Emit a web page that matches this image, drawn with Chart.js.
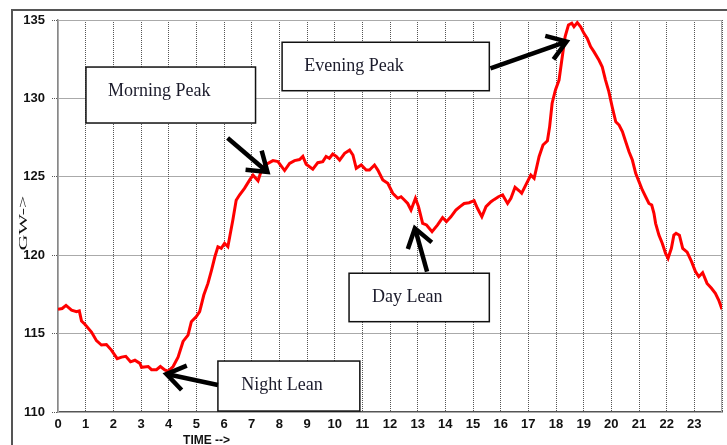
<!DOCTYPE html>
<html lang="en">
  <head>
    <meta charset="UTF-8" />
    <title>Daily load curve</title>
    <script src="https://cdn.jsdelivr.net/npm/chart.js"></script>
    <style>
      html, body { margin: 0; padding: 0; background: #fff; overflow: hidden; }
      .graph-container { position: relative; width: 727px; height: 445px; }
    </style>
  </head>
  <body>
    <div id="graph" class="graph-container"><canvas id="chart"></canvas></div>

    <script>
      // hour of day (x) and load in GW (y)
      const hours = [
        0.00, 0.15, 0.29, 0.49, 0.67, 0.77, 0.85, 0.97, 1.21, 1.39, 1.57, 1.75, 1.93,
        2.14, 2.30, 2.45, 2.62, 2.78, 2.96, 3.02, 3.26, 3.38, 3.56, 3.70, 3.86, 3.98,
        4.16, 4.34, 4.52, 4.70, 4.82, 5.00, 5.12, 5.27, 5.42, 5.55, 5.67, 5.78, 5.90,
        6.02, 6.14, 6.32, 6.44, 6.56, 6.74, 6.93, 7.05, 7.23, 7.35, 7.47, 7.59, 7.77,
        7.95, 8.19, 8.37, 8.55, 8.73, 8.85, 8.97, 9.21, 9.39, 9.57, 9.69, 9.81, 9.93,
        10.06, 10.18, 10.36, 10.54, 10.66, 10.78, 10.96, 11.14, 11.26, 11.44, 11.56,
        11.74, 11.92, 12.10, 12.28, 12.40, 12.52, 12.64, 12.76, 12.92, 13.03, 13.18,
        13.32, 13.52, 13.72, 13.90, 14.04, 14.20, 14.38, 14.53, 14.68, 14.86, 15.04,
        15.16, 15.32, 15.47, 15.65, 15.77, 15.92, 16.07, 16.25, 16.37, 16.52, 16.67,
        16.76, 16.91, 17.09, 17.21, 17.39, 17.53, 17.69, 17.77, 17.86, 17.98, 18.11,
        18.21, 18.33, 18.45, 18.57, 18.65, 18.77, 18.89, 19.01, 19.13, 19.25, 19.37,
        19.55, 19.67, 19.79, 19.91, 20.03, 20.16, 20.28, 20.40, 20.52, 20.64, 20.76,
        20.88, 21.00, 21.12, 21.24, 21.36, 21.46, 21.54, 21.60, 21.72, 21.84, 21.96,
        22.05, 22.17, 22.26, 22.34, 22.46, 22.58, 22.74, 22.90, 23.04, 23.16, 23.30,
        23.46, 23.62, 23.76, 23.88, 24.00
      ];
      const gw = [
        116.55, 116.6, 116.8, 116.5, 116.4, 116.45, 115.8, 115.6, 115.1, 114.55, 114.27, 114.3, 113.95,
        113.4, 113.5, 113.55, 113.2, 113.3, 113.1, 112.85, 112.9, 112.7, 112.7, 112.9, 112.68, 112.6,
        112.9, 113.5, 114.5, 114.9, 115.76, 116.08, 116.4, 117.46, 118.2, 119.05, 119.9, 120.54, 120.44,
        120.76, 120.54, 122.25, 123.5, 123.84, 124.26, 124.8, 125.1, 124.75, 125.4, 125.75, 125.86, 126.03,
        125.97, 125.4, 125.86, 126.03, 126.1, 126.3, 125.8, 125.48, 125.9, 125.97, 126.3, 126.18, 126.45,
        126.3, 126.07, 126.5, 126.7, 126.39, 125.54, 125.75, 125.43, 125.43, 125.75, 125.43,
        124.8, 124.58, 123.95, 123.63, 123.73, 123.52, 123.3, 122.88, 123.63, 123.1, 122.03,
        121.93, 121.5, 121.93, 122.4, 122.14, 122.45, 122.88, 123.1, 123.3, 123.35, 123.48,
        122.99, 122.45, 123.1, 123.41, 123.56, 123.73, 123.84, 123.3, 123.63, 124.33, 124.11,
        123.95, 124.48, 125.11, 124.9, 126.3, 127.03, 127.3, 128.2, 129.69, 130.54, 131.17,
        132.45, 133.94, 134.68, 134.79, 134.57, 134.83, 134.57, 134.15, 133.83, 133.3, 132.98,
        132.45, 132.02, 131.17, 130.43, 129.47, 128.51, 128.3, 127.88, 127.24, 126.6, 126.07,
        125.22, 124.69, 124.16, 123.73, 123.3, 123.2, 122.67, 122.03, 121.28, 120.76, 120.12,
        119.8, 120.44, 121.28, 121.4, 121.28, 120.44, 120.2, 119.59, 118.95, 118.63, 118.89,
        118.2, 117.89, 117.57, 117.14, 116.55
      ];

      const xTicks = [0, 1, 2, 3, 4, 5, 6, 7, 8, 9, 10, 11, 12, 13, 14, 15, 16, 17, 18, 19, 20, 21, 22, 23];
      const yTicks = [110, 115, 120, 125, 130, 135];

      // callout boxes with arrows, in data coordinates (hour, GW)
      const notes = [
        { text: "Morning Peak", box: [1.01, 7.14, 132.0, 128.43], textAt: [1.81, 130.47], arrow: [6.13, 127.47, 7.57, 125.31] },
        { text: "Evening Peak", box: [8.10, 15.59, 133.58, 130.49], textAt: [8.90, 132.07], arrow: [15.63, 131.92, 18.38, 133.62] },
        { text: "Day Lean", box: [10.52, 15.59, 118.85, 115.76], textAt: [11.35, 117.33], arrow: [13.34, 118.95, 12.90, 121.72] },
        { text: "Night Lean", box: [5.78, 10.91, 113.25, 110.06], textAt: [6.62, 111.72], arrow: [5.78, 111.72, 3.92, 112.42] }
      ];

      function drawArrow(ctx, x0, y0, x1, y1) {
        const ang = Math.atan2(y1 - y0, x1 - x0);
        const len = 22;
        const spread = 0.6;
        ctx.save();
        ctx.strokeStyle = "#000";
        ctx.lineWidth = 4.5;
        ctx.lineJoin = "miter";
        ctx.beginPath();
        ctx.moveTo(x0, y0);
        ctx.lineTo(x1, y1);
        ctx.stroke();
        ctx.beginPath();
        ctx.moveTo(x1 - len * Math.cos(ang - spread), y1 - len * Math.sin(ang - spread));
        ctx.lineTo(x1, y1);
        ctx.lineTo(x1 - len * Math.cos(ang + spread), y1 - len * Math.sin(ang + spread));
        ctx.stroke();
        ctx.restore();
      }

      const decorations = {
        id: "decorations",
        beforeDraw(chart) {
          const ctx = chart.ctx;
          ctx.save();
          ctx.fillStyle = "#fff";
          ctx.fillRect(0, 0, chart.width, chart.height);
          ctx.strokeStyle = "#555";
          ctx.lineWidth = 2;
          ctx.beginPath();
          ctx.moveTo(12, chart.height);
          ctx.lineTo(12, 10);
          ctx.lineTo(chart.width, 10);
          ctx.stroke();
          ctx.restore();
        },
        beforeDatasetsDraw(chart) {
          const { ctx, chartArea: a } = chart;
          ctx.save();
          ctx.strokeStyle = "#aaa";
          ctx.lineWidth = 1;
          ctx.strokeRect(a.left + 0.5, a.top + 0.5, a.right - a.left - 1, a.bottom - a.top);
          ctx.restore();
        },
        afterDatasetsDraw(chart) {
          const ctx = chart.ctx;
          const xs = chart.scales.x;
          const ys = chart.scales.y;
          ctx.save();
          notes.forEach((n) => {
            const bx0 = xs.getPixelForValue(n.box[0]);
            const bx1 = xs.getPixelForValue(n.box[1]);
            const by0 = ys.getPixelForValue(n.box[2]);
            const by1 = ys.getPixelForValue(n.box[3]);
            ctx.fillStyle = "#fff";
            ctx.fillRect(bx0, by0, bx1 - bx0, by1 - by0);
            ctx.strokeStyle = "#111";
            ctx.lineWidth = 1.5;
            ctx.strokeRect(bx0, by0, bx1 - bx0, by1 - by0);
            ctx.fillStyle = "#1b1b2b";
            ctx.font = "18px 'Liberation Serif', 'DejaVu Serif', serif";
            ctx.textAlign = "left";
            ctx.textBaseline = "middle";
            ctx.fillText(n.text, xs.getPixelForValue(n.textAt[0]), ys.getPixelForValue(n.textAt[1]));
            drawArrow(
              ctx,
              xs.getPixelForValue(n.arrow[0]), ys.getPixelForValue(n.arrow[1]),
              xs.getPixelForValue(n.arrow[2]), ys.getPixelForValue(n.arrow[3])
            );
          });
          ctx.restore();
        },
        afterDraw(chart) {
          const ctx = chart.ctx;
          const xs = chart.scales.x;
          const ys = chart.scales.y;
          ctx.save();
          // y axis title, stretched like the original
          ctx.fillStyle = "#111";
          ctx.font = "13px 'Liberation Serif', serif";
          ctx.textAlign = "center";
          ctx.textBaseline = "middle";
          ctx.translate(24, ys.getPixelForValue(122.05));
          ctx.rotate(-Math.PI / 2);
          const w = ctx.measureText("GW->").width;
          ctx.scale(55 / w, 1);
          ctx.fillText("GW->", 0, 0);
          ctx.restore();

          ctx.save();
          ctx.fillStyle = "#111";
          ctx.font = "bold 12px 'Liberation Sans', Arial, sans-serif";
          ctx.textAlign = "center";
          ctx.textBaseline = "top";
          ctx.fillText("TIME -->", xs.getPixelForValue(5.37), 435);
          ctx.restore();
        }
      };

      function createChart() {
        const points = hours.map((h, i) => ({ x: h, y: gw[i] }));
        const ctx = document.getElementById("chart").getContext("2d");

        new Chart(ctx, {
          type: "line",
          data: {
            datasets: [
              {
                label: "GW",
                data: points,
                borderColor: "#ff0000",
                borderWidth: 3,
                tension: 0,
                pointRadius: 0,
                fill: false,
              },
            ],
          },
          options: {
            responsive: true,
            maintainAspectRatio: false,
            animation: false,
            devicePixelRatio: 1,
            layout: { padding: { left: 0, top: 20, right: 3, bottom: 0 } },
            plugins: {
              legend: { display: false },
              tooltip: { enabled: false },
              title: { display: false },
            },
            scales: {
              x: {
                type: "linear",
                min: 0,
                max: 24,
                afterBuildTicks: (scale) => {
                  scale.ticks = xTicks.concat([24]).map((v) => ({ value: v }));
                },
                afterFit: (scale) => {
                  scale.height = 33;
                },
                ticks: {
                  autoSkip: false,
                  maxRotation: 0,
                  padding: 5,
                  color: "#111",
                  font: { family: "'Liberation Sans', Arial, sans-serif", size: 13, weight: "bold" },
                  callback: (value) => (xTicks.includes(value) ? String(value) : ""),
                },
                grid: {
                  color: "#555",
                  lineWidth: 1,
                  drawTicks: false,
                },
                border: { display: true, color: "#555", width: 1.5, dash: [1, 1] },
              },
              y: {
                min: 110,
                max: 135,
                afterBuildTicks: (scale) => {
                  scale.ticks = yTicks.map((v) => ({ value: v }));
                },
                afterFit: (scale) => {
                  scale.width = 58;
                },
                ticks: {
                  padding: 7,
                  color: "#111",
                  font: { family: "'Liberation Sans', Arial, sans-serif", size: 13, weight: "bold" },
                  callback: (value) => String(value),
                },
                grid: {
                  color: "#555",
                  lineWidth: 1,
                  drawTicks: true,
                  tickLength: 6,
                  tickBorderDash: [1, 1],
                },
                border: { display: true, color: "#888", width: 1.5, dash: [1, 1] },
              },
            },
          },
          plugins: [decorations],
        });
      }

      document.addEventListener("DOMContentLoaded", createChart);
    </script>
  </body>
</html>
